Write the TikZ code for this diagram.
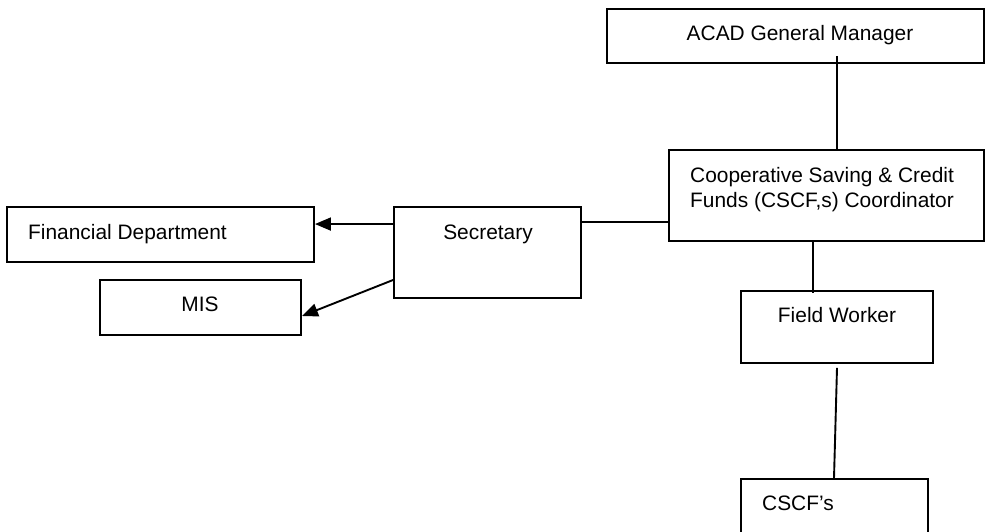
\documentclass[tikz,border=0pt]{standalone}
\usepackage{fontspec}
\setmainfont{Liberation Sans}
\usetikzlibrary{arrows.meta,calc}
\begin{document}
\begin{tikzpicture}[x=1pt,y=-1pt,
  box/.style={draw, line width=1.9pt, inner sep=0pt, rectangle},
  txt/.style={inner sep=0pt, font=\fontsize{20.9pt}{25pt}\selectfont},
  conn/.style={line width=1.9pt},
  arr/.style={line width=1.9pt, -{Triangle[length=16pt,width=13pt]}}]
\useasboundingbox (0,0) rectangle (985,531);
\clip (0,0) rectangle (985,531);
% boxes
\node[box, minimum width=377pt, minimum height=54pt] (gm) at (795.5,36) {};
\node[box, minimum width=315pt, minimum height=91pt] (coord) at (826.5,195.5) {};
\node[box, minimum width=187pt, minimum height=91pt] (sec) at (487.5,252.5) {};
\node[box, minimum width=307pt, minimum height=55pt] (fin) at (160.5,234.5) {};
\node[box, minimum width=201pt, minimum height=55pt] (mis) at (200.5,307.5) {};
\node[box, minimum width=192pt, minimum height=72pt] (fw) at (837,327) {};
\node[box, minimum width=187pt, minimum height=82pt] (cscf) at (834.5,520) {};
% texts
\node[txt, anchor=base] (tgm) at (800,40) {ACAD General Manager};
\node[txt, anchor=base west] (tc1) at (690,182) {Cooperative Saving \& Credit};
\node[txt, anchor=base west] (tc2) at (690,207) {Funds (CSCF,s) Coordinator};
\node[txt, anchor=base] (tsec) at (488,239) {Secretary};
\node[txt, anchor=base west] (tfin) at (28,239) {Financial Department};
\node[txt, anchor=base] (tmis) at (200,311) {MIS};
\node[txt, anchor=base] (tfw) at (837,322) {Field Worker};
\node[txt, anchor=base west] (tcs) at (762,510) {CSCF’s};
% connectors
\coordinate (g1) at ($(gm.south)+(41.5,-8)$);
\draw[conn] (g1) -- (g1 |- coord.north);
\coordinate (s0) at ($(sec.north east)+(0,16)$);
\draw[conn] (s0) -- (s0 -| coord.west);
\coordinate (s1) at ($(sec.north west)+(0,18)$);
\draw[arr] (s1) -- (s1 -| fin.east);
\coordinate (s2) at ($(sec.west)+(0,27.5)$);
\coordinate (m1) at ($(mis.east)+(0,8.5)$);
\draw[arr] (s2) -- (m1);
\coordinate (c1) at ($(coord.south)+(-13.5,0)$);
\draw[conn] (c1) -- ($(c1 |- fw.north)+(0,3)$);
\coordinate (f1) at ($(fw.south)+(0,4)$);
\coordinate (k1) at ($(cscf.north)+(-0.5,0)$);
\draw[conn] (f1) -- (k1);
\end{tikzpicture}
\end{document}
